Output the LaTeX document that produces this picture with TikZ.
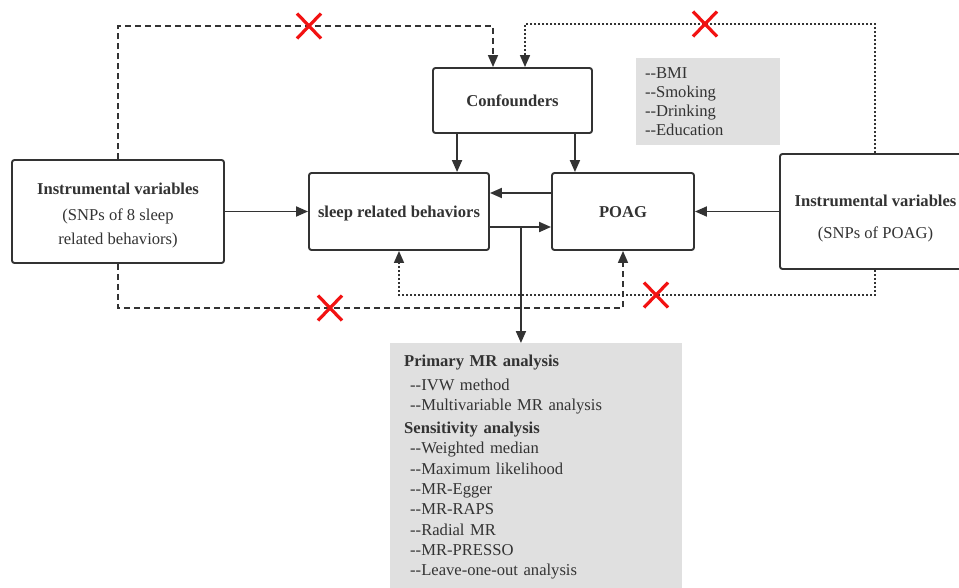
\documentclass[tikz,border=0pt]{standalone}
\usepackage{fontspec}
\setmainfont{Liberation Serif}[Ligatures=TeXOff]
\usetikzlibrary{arrows.meta}
\definecolor{ink}{HTML}{333333}
\definecolor{panel}{HTML}{E0E0E0}
\definecolor{xred}{HTML}{F21212}
\begin{document}
\begin{tikzpicture}[x=1pt,y=-1pt,
  txt/.style={font=\fontsize{16.6}{19}\selectfont, text=ink},
  btxt/.style={font=\fontsize{16.6}{19}\selectfont\bfseries, text=ink, text height=15pt, text depth=3pt},
  box/.style={txt, draw=ink, line width=1.9pt, rounded corners=2.5pt, fill=white, align=center, inner sep=0pt},
  arr/.style={draw=ink, line width=1.9pt, -{Triangle[length=12pt,width=10pt]}},
  dashline/.style={arr, line width=1.7pt, dash pattern=on 6pt off 4pt},
  dotline/.style={arr, line width=1.7pt, dash pattern=on 2pt off 2pt},
  crossmark/.pic={\draw[xred, line width=3.2pt] (-12,-12.5) -- (12,12.5) (-12,12.5) -- (12,-12.5);}
]
\useasboundingbox (0,0) rectangle (959,587);
\clip (0,0) rectangle (959,587);

% boxes
\node[box, minimum width=212pt, minimum height=103pt] (ivl) at (118,211.5) {};
\node[txt, align=center, inner sep=0pt] (ivllabel) at (118,215.5)
  {{\bfseries Instrumental variables}\\[7pt](SNPs of 8 sleep\\[5pt]related behaviors)};
\node[box, btxt, minimum width=180pt, minimum height=77pt] (sleep) at (399,211.5) {sleep related behaviors};
\node[box, btxt, minimum width=159pt, minimum height=65pt] (conf) at (512.5,100.5) {Confounders};
\node[box, btxt, minimum width=142pt, minimum height=77pt] (poag) at (623,211.5) {POAG};
\node[box, minimum width=190pt, minimum height=115pt] (ivr) at (875,211.5) {};
\node[txt, align=center, inner sep=0pt] (ivrlabel) at (875.5,219)
  {{\bfseries Instrumental variables}\\[13pt](SNPs of POAG)};

% confounder list
\node[txt, fill=panel, minimum width=144pt, minimum height=81pt, text width=126pt, inner sep=9pt, align=left] (conflist) at (708,101.5)
  {--BMI\\--Smoking\\--Drinking\\--Education};

% analysis panel
\node[fill=panel, anchor=north west, minimum width=292pt, minimum height=260pt, inner sep=0pt] (ana) at (390,343) {};
\node[txt, font=\fontsize{16.6}{20.3}\selectfont, anchor=north west, text width=275pt, align=left, inner sep=0pt] (anatext) at (404,355)
  {{\bfseries Primary MR analysis}\\[3.5pt]
   \hspace*{6pt}--IVW method\\
   \hspace*{6pt}--Multivariable MR analysis\\[2.5pt]
   {\bfseries Sensitivity analysis}\\
   \hspace*{6pt}--Weighted median\\
   \hspace*{6pt}--Maximum likelihood\\
   \hspace*{6pt}--MR-Egger\\
   \hspace*{6pt}--MR-RAPS\\
   \hspace*{6pt}--Radial MR\\
   \hspace*{6pt}--MR-PRESSO\\
   \hspace*{6pt}--Leave-one-out analysis};

% dashed / dotted paths
\draw[dashline] (ivl.north) -- (ivl.north |- 0,26) -- ([xshift=-19.5pt]conf.north |- 0,26) -- ([xshift=-19.5pt]conf.north);
\draw[dotline] (ivr.north) -- (ivr.north |- 0,24) -- ([xshift=12.5pt]conf.north |- 0,24) -- ([xshift=12.5pt]conf.north);
\draw[dashline] (ivl.south) -- (ivl.south |- 0,308) -- (poag.south |- 0,308) -- (poag.south);
\draw[dotline] (ivr.south) -- (ivr.south |- 0,295) -- (sleep.south |- 0,295) -- (sleep.south);

% solid connectors
\draw[arr] (ivl.east) -- (sleep.west);
\draw[arr] (ivr.west) -- (poag.east);
\draw[arr] ([xshift=25pt]conf.south west) -- ([xshift=25pt]conf.south west |- sleep.north);
\draw[arr] ([xshift=-18pt]conf.south east) -- ([xshift=-18pt]conf.south east |- poag.north);
\draw[arr] ([yshift=18.5pt]poag.west) -- ([yshift=18.5pt]poag.west -| sleep.east);
\draw[arr] ([yshift=-15.5pt]sleep.east) -- ([yshift=-15.5pt]sleep.east -| poag.west);
\coordinate (br) at ([xshift=31pt,yshift=-15.5pt]sleep.east);
\draw[arr] (br) -- (br |- ana.north);

% red crosses
\pic at (309,26) {crossmark};
\pic at (705,24) {crossmark};
\pic at (330,308) {crossmark};
\pic at (656,295) {crossmark};
\end{tikzpicture}
\end{document}
